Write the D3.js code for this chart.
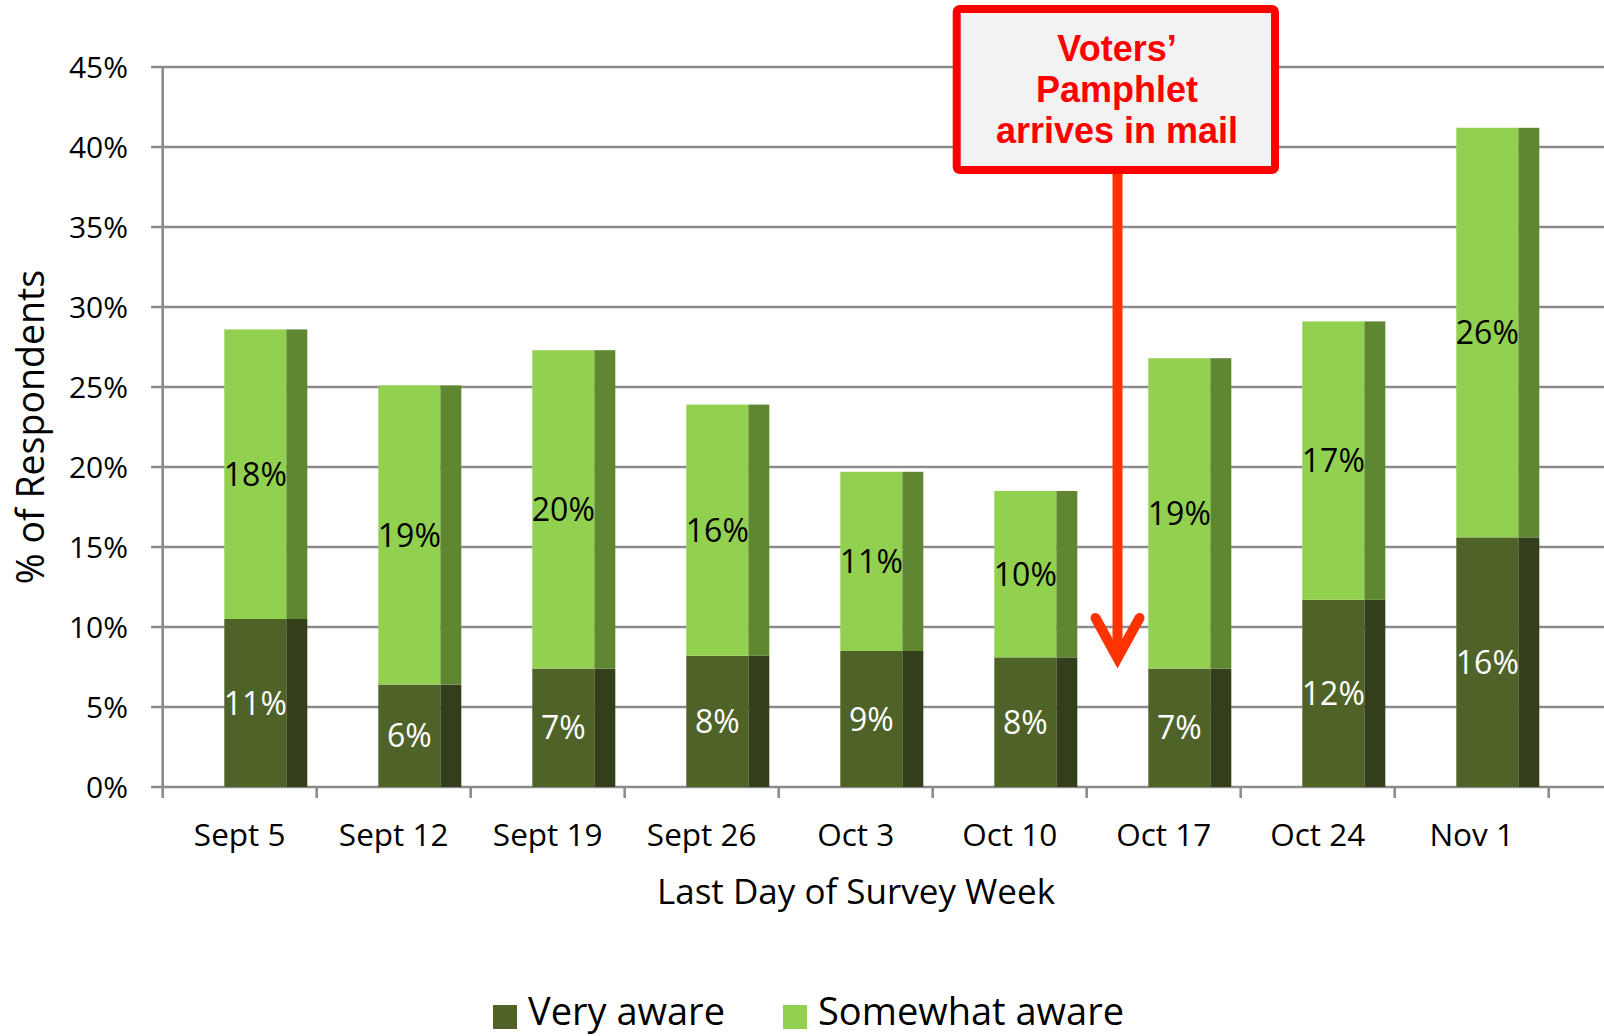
<!DOCTYPE html>
<html><head><meta charset="utf-8">
<script src="https://cdn.jsdelivr.net/npm/d3@7"></script>
<style>html,body{margin:0;padding:0;background:#fff;overflow:hidden}svg{display:block}</style>
</head><body>
<svg id="c" width="1604" height="1036"></svg>
<script>
const categories = ["Sept 5","Sept 12","Sept 19","Sept 26","Oct 3","Oct 10","Oct 17","Oct 24","Nov 1"];
const veryAware = [10.5, 6.4, 7.4, 8.2, 8.5, 8.1, 7.4, 11.7, 15.6];
const somewhatAware = [18.1, 18.7, 19.9, 15.7, 11.2, 10.4, 19.4, 17.4, 25.6];
const veryLabels = ["11%","6%","7%","8%","9%","8%","7%","12%","16%"];
const somewhatLabels = ["18%","19%","20%","16%","11%","10%","19%","17%","26%"];
const yTicks = [0,5,10,15,20,25,30,35,40,45];
const seriesNames = ["Very aware","Somewhat aware"];
const calloutLines = ["Voters’","Pamphlet","arrives in mail"];

const FONT = "'Open Sans', sans-serif";
const svg = d3.select("#c");
const x = d3.scaleBand().domain(categories).range([162.7, 1548.7]).padding(0);
const y = d3.scaleLinear().domain([0,45]).range([787, 67]);
const bw = x.bandwidth();
const frontOff = 0.40*bw, frontW = 0.403*bw, sideW = 0.136*bw;

const colors = {
  very: {front:"#4f6228", side:"#333f1b"},
  some: {front:"#92d050", side:"#5f8732"}
};

// gridlines
svg.append("g").selectAll("line").data(yTicks).join("line")
  .attr("x1", 151).attr("x2", 1604)
  .attr("y1", d=>y(d)).attr("y2", d=>y(d))
  .attr("stroke", "#8c8c8c").attr("stroke-width", 2.6);
// y axis line
svg.append("line").attr("x1", x.range()[0]).attr("x2", x.range()[0])
  .attr("y1", y(45)-1).attr("y2", y(0)+1).attr("stroke","#8c8c8c").attr("stroke-width",2.6);
// x ticks
const xt = d3.range(categories.length+1).map(i => x.range()[0] + i*bw);
svg.append("g").selectAll("line").data(xt).join("line")
  .attr("x1", d=>d).attr("x2", d=>d).attr("y1", y(0)).attr("y2", y(0)+11)
  .attr("stroke","#8c8c8c").attr("stroke-width",2.6);

// y tick labels
svg.append("g").selectAll("text").data(yTicks).join("text")
  .attr("x", 128).attr("y", d=>y(d)).attr("dy","0.36em")
  .attr("text-anchor","end").attr("font-family",FONT).attr("font-size",30).attr("fill","#000")
  .text(d=>d+"%");

// x tick labels
svg.append("g").selectAll("text").data(categories).join("text")
  .attr("x", d=>x(d)+bw/2).attr("y", 846)
  .attr("text-anchor","middle").attr("font-family",FONT).attr("font-size",31.5).attr("fill","#000")
  .text(d=>d);

// bars
const data = categories.map((c,i)=>({c, v:veryAware[i], s:somewhatAware[i], vl:veryLabels[i], sl:somewhatLabels[i]}));
const bars = svg.append("g").selectAll("g").data(data).join("g");
function seg(sel, y0f, y1f, col){
  sel.append("rect").attr("x", d=>x(d.c)+frontOff).attr("width", frontW)
    .attr("y", d=>y(y1f(d))).attr("height", d=>y(y0f(d))-y(y1f(d))).attr("fill", col.front);
  sel.append("rect").attr("x", d=>x(d.c)+frontOff+frontW).attr("width", sideW)
    .attr("y", d=>y(y1f(d))).attr("height", d=>y(y0f(d))-y(y1f(d))).attr("fill", col.side);
}
seg(bars, d=>0, d=>d.v, colors.very);
seg(bars, d=>d.v, d=>d.v+d.s, colors.some);
bars.append("text").attr("x", d=>x(d.c)+frontOff+frontW/2).attr("y", d=>y(d.v/2)).attr("dy","0.36em")
  .attr("text-anchor","middle").attr("font-family",FONT).attr("font-size",32).attr("fill","#fff").text(d=>d.vl);
bars.append("text").attr("x", d=>x(d.c)+frontOff+frontW/2).attr("y", d=>y(d.v+d.s/2)).attr("dy","0.36em")
  .attr("text-anchor","middle").attr("font-family",FONT).attr("font-size",32).attr("fill","#000").text(d=>d.sl);

// axis titles
svg.append("text").attr("transform","translate(44,427) rotate(-90)")
  .attr("text-anchor","middle").attr("font-family",FONT).attr("font-size",37.5).attr("fill","#000")
  .text("% of Respondents");
svg.append("text").attr("x",856).attr("y",904).attr("text-anchor","middle")
  .attr("font-family",FONT).attr("font-size",35).attr("fill","#000").text("Last Day of Survey Week");

// legend
const legendItems = [
  {name: seriesNames[0], col: colors.very.front, sx: 493, tx: 528},
  {name: seriesNames[1], col: colors.some.front, sx: 783, tx: 818}
];
const lg = svg.append("g").selectAll("g").data(legendItems).join("g");
lg.append("rect").attr("x", d=>d.sx).attr("y", 1005).attr("width", 24).attr("height", 24).attr("fill", d=>d.col);
lg.append("text").attr("x", d=>d.tx).attr("y", 1025).attr("font-family",FONT).attr("font-size",38).attr("fill","#000").text(d=>d.name);

// callout arrow
const ax = 1117.5;
svg.append("line").attr("x1",ax).attr("x2",ax).attr("y1",170).attr("y2",657)
  .attr("stroke","#ff3300").attr("stroke-width",10);
svg.append("path").attr("d", `M${ax-22},${618} L${ax},${658} L${ax+22},${618}`)
  .attr("fill","none").attr("stroke","#ff3300").attr("stroke-width",10)
  .attr("stroke-linecap","round").attr("stroke-linejoin","miter");

// callout box
svg.append("rect").attr("x",956.7).attr("y",9).attr("width",318.3).attr("height",161).attr("rx",3)
  .attr("fill","#f2f2f2").attr("stroke","#ff0000").attr("stroke-width",8);
svg.append("g").selectAll("text").data(calloutLines).join("text")
  .attr("x", 1117).attr("y", (d,i)=>61+i*41).attr("text-anchor","middle")
  .attr("font-family","'Liberation Sans', Arial, sans-serif").attr("font-weight","bold")
  .attr("font-size",36).attr("fill","#ff0000").text(d=>d);
</script>
</body></html>
